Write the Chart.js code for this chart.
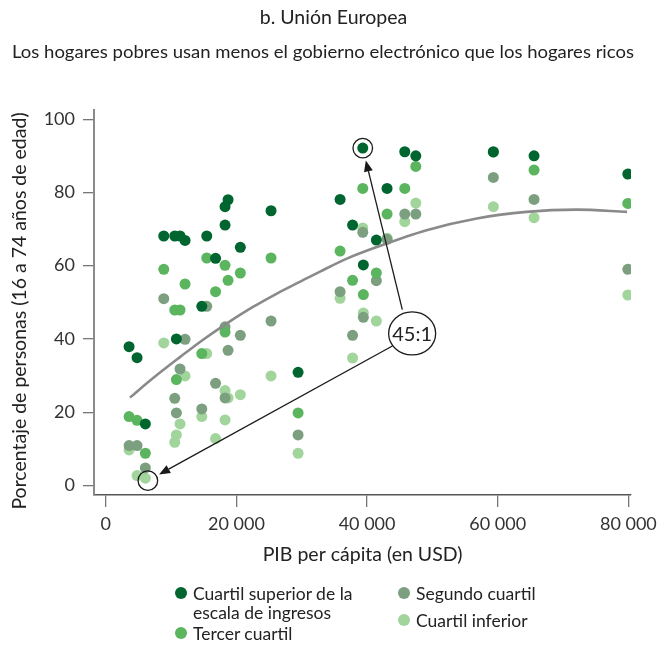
<!DOCTYPE html>
<html>
<head>
<meta charset="utf-8">
<script src="https://cdn.jsdelivr.net/npm/chart.js@4/dist/chart.umd.min.js"></script>
<style>
  html, body { margin: 0; padding: 0; background: #fff; }
  #wrap { position: relative; width: 667px; height: 647px; overflow: hidden; font-family: Lato, "Open Sans", sans-serif; color: #222; }
  #c { position: absolute; left: 0; top: 0; }
  .t { position: absolute; white-space: nowrap; }
  #title { left: 0; width: 667px; text-align: center; top: 5px; font-size: 19.5px; }
  #subtitle { left: 12px; top: 41px; font-size: 17px; transform-origin: 0 0; }
  .leg { position: absolute; font-size: 17.5px; line-height: 19px; color: #222; }
  .leg .dot { position: absolute; left: -18px; top: 3px; width: 12px; height: 12px; border-radius: 50%; }
</style>
</head>
<body>
<div id="wrap">
  <canvas id="c" width="667" height="647"></canvas>
  <div id="title" class="t">b. Unión Europea</div>
  <div id="subtitle" class="t">Los hogares pobres usan menos el gobierno electrónico que los hogares ricos</div>
  <div id="legend"></div>
</div>
<script>
// ---------- DATA ----------
// PIB per cápita (USD) of each country (one column of four points each)
const gdpPerCapita = [3570, 4790, 6060, 8880, 10560, 10810, 11370, 12140, 14700, 15460, 16810, 18260, 18260, 18720, 20600, 25300, 29440, 35870, 37780, 39340, 39430, 41420, 43060, 45770, 47460, 59330, 65560, 79910];
const cuartilSuperior = [37.9, 34.9, 16.8, 68.1, 68.1, 40.0, 68.1, 66.9, 48.9, 68.1, 62.0, 76.1, 71.1, 78.0, 65.0, 75.0, 30.9, 78.1, 71.1, 92.1, 60.2, 67.0, 81.1, 91.1, 90.0, 91.1, 90.0, 85.0];
const tercerCuartil   = [18.8, 17.8, 8.8, 59.0, 47.9, 28.9, 47.9, 55.0, 36.0, 62.1, 52.9, 60.1, 41.9, 56.0, 58.0, 62.1, 19.8, 64.0, 56.0, 81.1, 52.1, 58.0, 74.1, 81.1, 87.1, 91.0, 86.1, 77.0];
const segundoCuartil  = [10.9, 10.9, 4.8, 51.0, 23.8, 19.8, 31.8, 39.9, 20.9, 48.9, 27.9, 43.3, 23.9, 36.9, 41.0, 44.9, 13.8, 52.9, 41.0, 69.1, 45.9, 55.9, 67.2, 74.1, 74.1, 84.1, 78.1, 59.0];
const cuartilInferior = [9.7, 2.7, 2.0, 38.9, 11.8, 13.8, 16.8, 29.9, 18.8, 36.0, 12.8, 25.9, 17.9, 23.9, 24.8, 29.9, 8.8, 51.1, 34.8, 70.3, 47.1, 44.9, 67.5, 72.0, 77.1, 76.1, 73.1, 52.0];
// fitted trend curve
const trendX = [3700, 7300, 11400, 14900, 18500, 22600, 26200, 29700, 32800, 37000, 41500, 49100, 56800, 64400, 72100, 79800];
const trendY = [24.0, 29.4, 35.1, 39.8, 44.2, 48.8, 52.4, 55.6, 58.4, 62.0, 65.1, 69.7, 72.9, 74.7, 75.3, 74.7];
const xTicks = [0, 20000, 40000, 60000, 80000];
const yTicks = [0, 20, 40, 60, 80, 100];
const seriesLabels = ["Cuartil superior de la\nescala de ingresos", "Tercer cuartil", "Segundo cuartil", "Cuartil inferior"];
const ratioLabel = "45:1";
const ratioLabelPos = [46900, 41.5];
const xTitle = "PIB per cápita (en USD)";
const yTitle = "Porcentaje de personas (16 a 74 años de edad)";

// ---------- STYLE ----------
const colors = ["#00652e", "#5ab55e", "#7c9f80", "#a1d59c"];
const fontFam = "Lato, 'Open Sans', sans-serif";

const seriesValues = [cuartilSuperior, tercerCuartil, segundoCuartil, cuartilInferior];
const pts = v => gdpPerCapita.map((x, i) => ({x: x, y: v[i]}));

const datasets = seriesValues.map((v, k) => ({
  type: 'scatter',
  label: seriesLabels[k],
  data: pts(v),
  backgroundColor: colors[k],
  borderWidth: 0,
  pointRadius: 5.5,
  pointHoverRadius: 5.5,
  order: k + 1
}));
datasets.push({
  type: 'line',
  label: 'tendencia',
  data: trendX.map((x, i) => ({x: x, y: trendY[i]})),
  borderColor: '#8a8a8a',
  borderWidth: 2.6,
  pointRadius: 0,
  cubicInterpolationMode: 'monotone',
  fill: false,
  order: 0
});

// annotation plugin: circles around extreme points, labelled ellipse, arrows, y-axis title
const annot = {
  id: 'annot',
  afterDatasetsDraw(chart) {
    const ctx = chart.ctx, xs = chart.scales.x, ys = chart.scales.y;
    let hi = {v: -1, i: 0}, lo = {v: 1e9, i: 0};
    cuartilSuperior.forEach((v, i) => { if (v > hi.v) hi = {v, i}; });
    cuartilInferior.forEach((v, i) => { if (v < lo.v) lo = {v, i}; });
    const H = {x: xs.getPixelForValue(gdpPerCapita[hi.i]), y: ys.getPixelForValue(hi.v)};
    const L = {x: xs.getPixelForValue(gdpPerCapita[lo.i]) + 2.5, y: ys.getPixelForValue(lo.v) + 2.5};
    const r = 9.8;
    ctx.save();
    ctx.strokeStyle = '#1a1a1a';
    ctx.lineWidth = 1.3;
    [H, L].forEach(p => { ctx.beginPath(); ctx.arc(p.x, p.y, r, 0, Math.PI * 2); ctx.stroke(); });
    const E = {x: xs.getPixelForValue(ratioLabelPos[0]), y: ys.getPixelForValue(ratioLabelPos[1])};
    const rx = 23.5, ry = 21.5;
    ctx.beginPath(); ctx.ellipse(E.x, E.y, rx, ry, 0, 0, Math.PI * 2); ctx.stroke();
    ctx.fillStyle = '#222';
    ctx.font = '20px ' + fontFam;
    ctx.textAlign = 'center'; ctx.textBaseline = 'middle';
    ctx.fillText(ratioLabel, E.x, E.y + 1);
    function arrow(T, startOff) {
      const dx = T.x - (E.x + startOff), dy = T.y - E.y;
      const ang = Math.atan2(dy, dx);
      const c = Math.cos(ang), s = Math.sin(ang);
      const k = 1 / Math.sqrt((c * c) / (rx * rx) + (s * s) / (ry * ry));
      const sx = E.x + startOff + c * (k + 3), sy = E.y + s * (k + 3);
      const tx = T.x - c * (r + 3), ty = T.y - s * (r + 3);
      const hl = 11, hw = 4.5;
      const bx = tx - c * hl, by = ty - s * hl;
      ctx.beginPath(); ctx.moveTo(sx, sy); ctx.lineTo(bx, by); ctx.stroke();
      ctx.beginPath();
      ctx.moveTo(tx, ty);
      ctx.lineTo(bx - s * hw, by + c * hw);
      ctx.lineTo(bx + s * hw, by - c * hw);
      ctx.closePath(); ctx.fill();
    }
    ctx.fillStyle = '#1a1a1a';
    arrow(H, -4);
    arrow(L, 3);
    // y-axis title
    ctx.fillStyle = '#222';
    ctx.font = '19.5px ' + fontFam;
    ctx.translate(20, 311);
    ctx.rotate(-Math.PI / 2);
    ctx.fillText(yTitle, 0, 0);
    ctx.restore();
  }
};

const fmt = v => String(v).replace(/\B(?=(\d{3})+(?!\d))/g, ' ');

new Chart(document.getElementById('c'), {
  data: { datasets },
  options: {
    responsive: false,
    animation: false,
    devicePixelRatio: 1,
    layout: { padding: { top: 110, right: 36, left: 0, bottom: 0 } },
    plugins: { legend: { display: false }, tooltip: { enabled: false }, title: { display: false } },
    scales: {
      x: {
        type: 'linear', min: -1800, max: 80400,
        afterBuildTicks: s => { s.ticks = xTicks.map(v => ({value: v})); },
        afterFit: s => { s.height = 152; },
        ticks: { callback: v => fmt(v), color: '#333', font: { family: fontFam, size: 18 }, padding: 6, maxRotation: 0, autoSkip: false },
        grid: { drawOnChartArea: false, drawTicks: true, tickLength: 12, color: '#777', lineWidth: 1.3 },
        border: { display: true, color: '#555', width: 1.5 },
        title: { display: true, text: xTitle, color: '#222', font: { family: fontFam, size: 19.5 }, padding: { top: 0, bottom: 81 } }
      },
      y: {
        type: 'linear', min: -2.6, max: 102.5,
        afterBuildTicks: s => { s.ticks = yTicks.map(v => ({value: v})); },
        afterFit: s => { s.width = 94; },
        ticks: { color: '#333', font: { family: fontFam, size: 18 }, padding: 8, autoSkip: false },
        grid: { drawOnChartArea: false, drawTicks: true, tickLength: 11, color: '#777', lineWidth: 1.3 },
        border: { display: true, color: '#8a8a8a', width: 2 },
        title: { display: false }
      }
    }
  },
  plugins: [annot]
});

// ---------- HTML legend ----------
const legPos = [[193, 584], [193, 624], [416, 584], [416, 611]];
const legend = document.getElementById('legend');
seriesLabels.forEach((lab, k) => {
  const d = document.createElement('div');
  d.className = 'leg';
  d.style.left = legPos[k][0] + 'px';
  d.style.top = legPos[k][1] + 'px';
  d.innerHTML = '<span class="dot" style="background:' + colors[k] + '"></span>' + lab.replace('\n', '<br>');
  legend.appendChild(d);
});

// fit subtitle to its measured width in the reference
const sub = document.getElementById('subtitle');
const w = sub.getBoundingClientRect().width;
sub.style.transform = 'scaleX(' + (622 / w) + ')';
</script>
</body>
</html>
